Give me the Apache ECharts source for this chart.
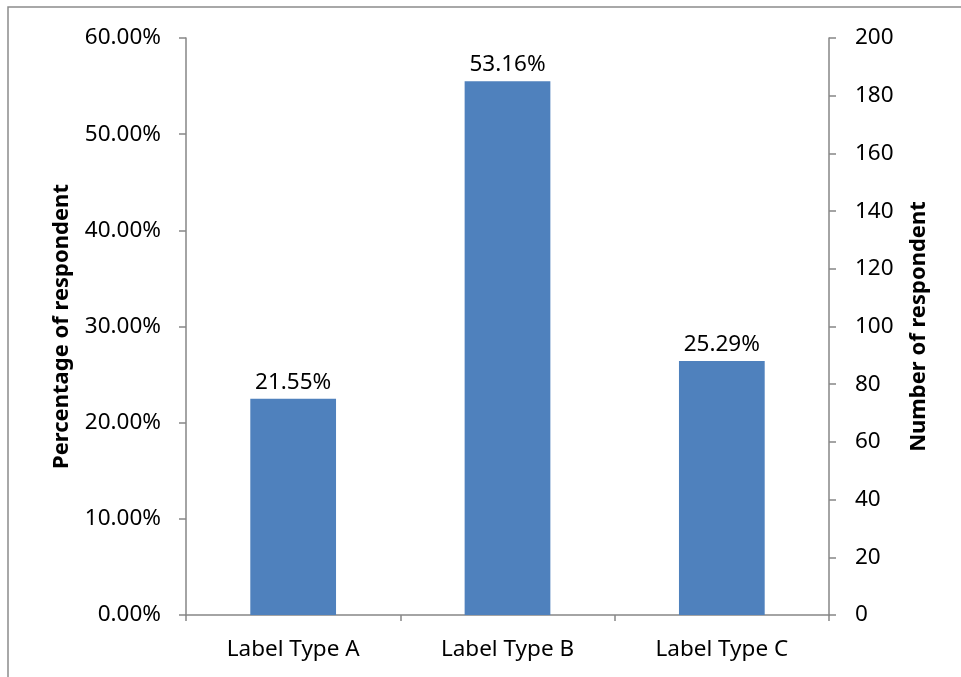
<!DOCTYPE html>
<html>
<head>
<meta charset="utf-8">
<script src="https://cdn.jsdelivr.net/npm/echarts@6/dist/echarts.min.js"></script>
<style>
  html, body { margin: 0; padding: 0; background: #fff; }
  #chart { width: 961px; height: 677px; }
</style>
</head>
<body>
<div id="chart"></div>
<script>
// Respondents per label type
const categories = ['Label Type A', 'Label Type B', 'Label Type C'];
const respondents = [75, 185, 88];
const pctTicks = [0, 0.1, 0.2, 0.3, 0.4, 0.5, 0.6];
const countTicks = [0, 20, 40, 60, 80, 100, 120, 140, 160, 180, 200];

const total = respondents.reduce((a, b) => a + b, 0);
const FONT = 'Noto Sans';
const axisGray = '#868686';
const LABEL_SIZE = 22.5;
const TITLE_SIZE = 22;

const chart = echarts.init(document.getElementById('chart'), null, { renderer: 'canvas' });

chart.setOption({
  animation: false,
  backgroundColor: '#fff',
  textStyle: { fontFamily: FONT, color: '#000' },
  graphic: [{
    type: 'rect',
    shape: { x: 8, y: 7, width: 1200, height: 1000 },
    style: { fill: 'none', stroke: '#8c8c8c', lineWidth: 1.5 },
    silent: true
  }],
  grid: { left: 186, right: 132, top: 38, bottom: 62, containLabel: false },
  xAxis: {
    type: 'category',
    data: categories,
    axisLine: { lineStyle: { color: axisGray, width: 1.5 } },
    axisTick: { show: true, length: 6, lineStyle: { color: axisGray, width: 1.5 } },
    axisLabel: { fontFamily: FONT, fontSize: LABEL_SIZE, color: '#000', margin: 23 }
  },
  yAxis: [{
    type: 'value',
    position: 'left',
    min: pctTicks[0],
    max: pctTicks[pctTicks.length - 1],
    interval: 0.1,
    name: 'Percentage of respondent',
    nameLocation: 'middle',
    nameRotate: 90,
    nameGap: 113,
    nameTextStyle: { fontFamily: FONT, fontSize: TITLE_SIZE, fontWeight: 'bold', color: '#000' },
    axisLine: { show: true, lineStyle: { color: axisGray, width: 1.5 } },
    axisTick: { show: true, length: 7, lineStyle: { color: axisGray, width: 1.5 } },
    splitLine: { show: false },
    axisLabel: {
      fontFamily: FONT, fontSize: LABEL_SIZE, color: '#000', margin: 25,
      formatter: v => (v * 100).toFixed(2) + '%'
    }
  }, {
    type: 'value',
    position: 'right',
    min: countTicks[0],
    max: countTicks[countTicks.length - 1],
    interval: 20,
    name: 'Number of respondent',
    nameLocation: 'middle',
    nameRotate: 90,
    nameGap: 79,
    nameTextStyle: { fontFamily: FONT, fontSize: TITLE_SIZE, fontWeight: 'bold', color: '#000' },
    axisLine: { show: true, lineStyle: { color: axisGray, width: 1.5 } },
    axisTick: { show: true, length: 7, lineStyle: { color: axisGray, width: 1.5 } },
    splitLine: { show: false },
    axisLabel: { fontFamily: FONT, fontSize: LABEL_SIZE, color: '#000', margin: 26 }
  }],
  series: [{
    type: 'bar',
    yAxisIndex: 1,
    data: respondents,
    barWidth: '40%',
    itemStyle: { color: '#4F81BD' },
    label: {
      show: true,
      position: 'top',
      distance: 5,
      fontFamily: FONT,
      fontSize: LABEL_SIZE,
      color: '#000',
      formatter: p => (p.value / total * 100).toFixed(2) + '%'
    }
  }]
});
</script>
</body>
</html>
